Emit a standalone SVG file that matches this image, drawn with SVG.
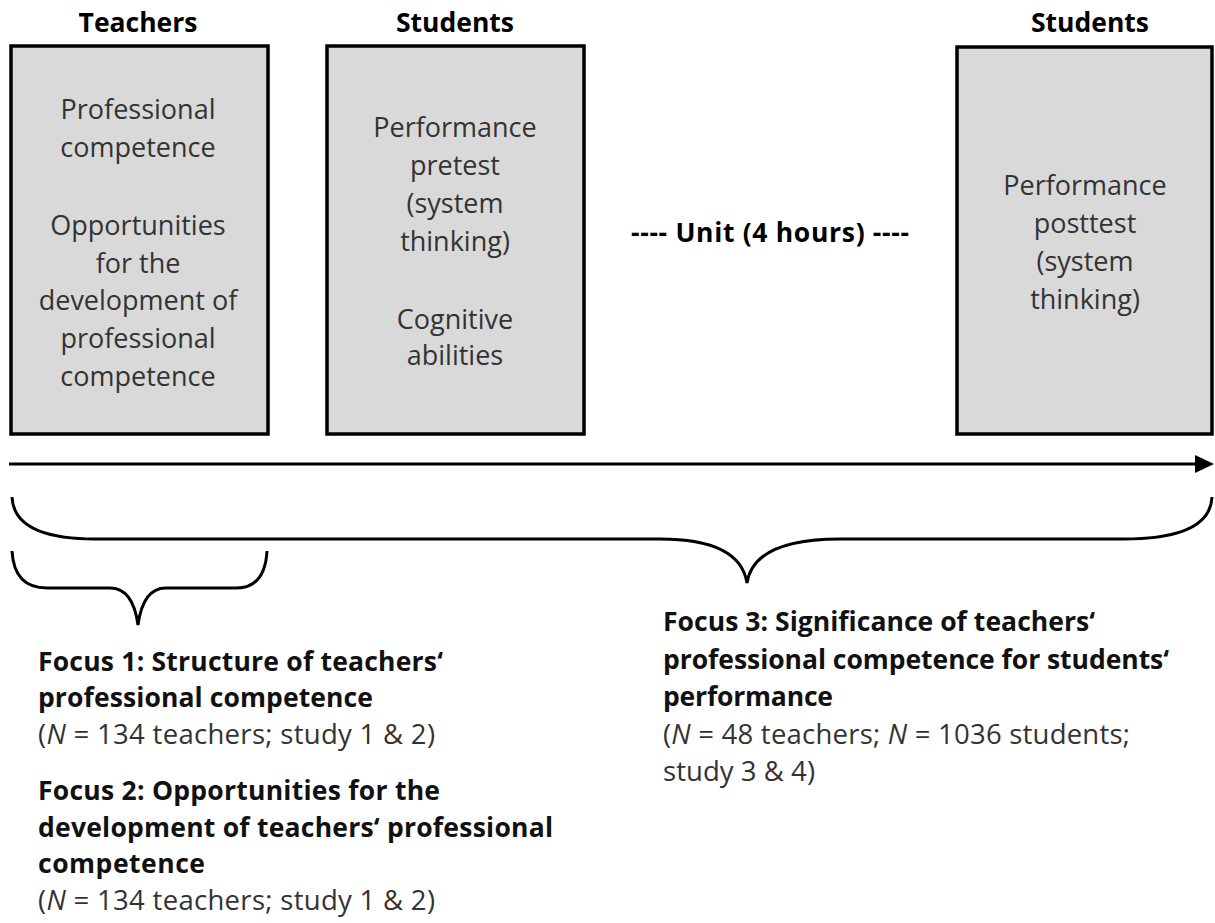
<svg xmlns="http://www.w3.org/2000/svg" width="1215" height="923" viewBox="0 0 1215 923">
<style>
.box{fill:#d9d9d9;stroke:#000;stroke-width:3.5}
.hd{font-family:"Open Sans","Liberation Sans",sans-serif;font-weight:bold;font-size:26.5px;fill:#000;text-anchor:middle}
.bt{font-family:"Open Sans","Liberation Sans",sans-serif;font-size:27px;fill:#333;text-anchor:middle}
.fb{font-family:"Open Sans","Liberation Sans",sans-serif;font-weight:bold;font-size:26.5px;fill:#111}
.fr{font-family:"Open Sans","Liberation Sans",sans-serif;font-size:27.5px;fill:#333}
.ln{fill:none;stroke:#000;stroke-width:3}
</style>
<defs>
<marker id="ah" markerUnits="userSpaceOnUse" markerWidth="19" markerHeight="18" refX="0" refY="9" orient="auto">
<path d="M0,0 L19,9 L0,18 Z" fill="#000"/>
</marker>
</defs>
<g id="teachers">
<text class="hd" x="138" y="32">Teachers</text>
<rect class="box" x="11" y="46" width="257" height="388"/>
<text class="bt" x="138" y="119">Professional</text>
<text class="bt" x="138" y="157">competence</text>
<text class="bt" x="138" y="235">Opportunities</text>
<text class="bt" x="138" y="273">for the</text>
<text class="bt" x="138" y="310">development of</text>
<text class="bt" x="138" y="348">professional</text>
<text class="bt" x="138" y="386">competence</text>
</g>
<g id="students-pre">
<text class="hd" x="455" y="32">Students</text>
<rect class="box" x="327" y="46" width="257" height="388"/>
<text class="bt" x="455" y="137">Performance</text>
<text class="bt" x="455" y="175">pretest</text>
<text class="bt" x="455" y="213">(system</text>
<text class="bt" x="455" y="251">thinking)</text>
<text class="bt" x="455" y="329">Cognitive</text>
<text class="bt" x="455" y="365">abilities</text>
</g>
<g id="unit">
<text class="hd" x="770" y="242" textLength="278">---- Unit (4 hours) ----</text>
</g>
<g id="students-post">
<text class="hd" x="1090" y="32">Students</text>
<rect class="box" x="957" y="47" width="255" height="387"/>
<text class="bt" x="1085" y="195">Performance</text>
<text class="bt" x="1085" y="233">posttest</text>
<text class="bt" x="1085" y="271">(system</text>
<text class="bt" x="1085" y="309">thinking)</text>
</g>
<g id="connectors">
<line class="ln" x1="9" y1="464" x2="1195" y2="464" stroke-width="3.5" marker-end="url(#ah)"/>
<path class="ln" d="M12,497 Q14,539 95,539 L660,539 Q740,539 747,583 Q754,539 840,539 L1124,539 Q1210,539 1212,497"/>
<path class="ln" d="M12,551 Q14,588 47,588 L110,588 Q133,588 138,625 Q143,588 166,588 L236,588 Q265,588 267,551"/>
</g>
<g id="focus1">
<text class="fb" x="38" y="671" textLength="405">Focus 1: Structure of teachers‘</text>
<text class="fb" x="38" y="707" textLength="335">professional competence</text>
<text class="fr" x="38" y="744" textLength="397">(<tspan font-style="italic">N</tspan> = 134 teachers; study 1 &amp; 2)</text>
</g>
<g id="focus2">
<text class="fb" x="38" y="800" textLength="402">Focus 2: Opportunities for the</text>
<text class="fb" x="38" y="837" textLength="515">development of teachers‘ professional</text>
<text class="fb" x="38" y="873" textLength="167">competence</text>
<text class="fr" x="38" y="910" textLength="397">(<tspan font-style="italic">N</tspan> = 134 teachers; study 1 &amp; 2)</text>
</g>
<g id="focus3">
<text class="fb" x="663" y="631" textLength="432">Focus 3: Significance of teachers‘</text>
<text class="fb" x="663" y="669" textLength="506">professional competence for students‘</text>
<text class="fb" x="663" y="706" textLength="170">performance</text>
<text class="fr" x="663" y="744" textLength="467">(<tspan font-style="italic">N</tspan> = 48 teachers; <tspan font-style="italic">N</tspan> = 1036 students;</text>
<text class="fr" x="663" y="781" textLength="152">study 3 &amp; 4)</text>
</g>
</svg>
